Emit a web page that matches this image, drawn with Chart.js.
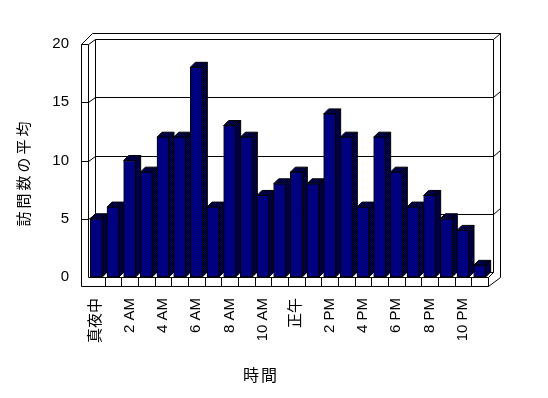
<!DOCTYPE html>
<html>
<head>
<meta charset="utf-8">
<script src="https://cdn.jsdelivr.net/npm/chart.js@4/dist/chart.umd.min.js"></script>
<style>
  body { margin: 0; background: #fff; }
  canvas { display: block; }
</style>
</head>
<body>
<canvas id="chart" width="548" height="398"></canvas>
<script>
// hour categories (only every other one gets a label)
const hours = ['真夜中', '1 AM', '2 AM', '3 AM', '4 AM', '5 AM', '6 AM', '7 AM', '8 AM', '9 AM', '10 AM', '11 AM',
  '正午', '1 PM', '2 PM', '3 PM', '4 PM', '5 PM', '6 PM', '7 PM', '8 PM', '9 PM', '10 PM', '11 PM'];
const visits = [5, 6, 10, 9, 12, 12, 18, 6, 13, 12, 7, 8, 9, 8, 14, 12, 6, 12, 9, 6, 7, 5, 4, 1];
const yTicks = [0, 5, 10, 15, 20];
const xTitle = '時間';
const yTitle = '訪問数の平均';

const FONT = "'Liberation Sans', 'Noto Sans CJK JP', sans-serif";
const NAVY = '#000080';

// checker pattern used for the shaded sides of bars
function makeShade(ctx) {
  const c = document.createElement('canvas');
  c.width = 2; c.height = 2;
  const g = c.getContext('2d');
  g.fillStyle = '#000';
  g.fillRect(0, 0, 2, 2);
  g.fillStyle = NAVY;
  g.fillRect(0, 0, 1, 1);
  g.fillRect(1, 1, 1, 1);
  return ctx.createPattern(c, 'repeat');
}

function poly(ctx, pts, fill) {
  ctx.beginPath();
  ctx.moveTo(pts[0][0], pts[0][1]);
  for (let i = 1; i < pts.length; i++) ctx.lineTo(pts[i][0], pts[i][1]);
  if (fill) {
    ctx.closePath();
    ctx.fillStyle = fill;
    ctx.fill();
  }
  ctx.stroke();
}

// fake excel-style 3d box + bar depth
const box3d = {
  id: 'box3d',
  beforeDatasetsDraw(chart) {
    const { ctx, chartArea: a, scales } = chart;
    const y = scales.y, x = scales.x;
    const L = Math.round(a.left) + 0.5, R = Math.round(a.right) + 0.5;
    const T = Math.round(a.top) + 0.5, B = Math.round(a.bottom) + 0.5;
    const W = 7, FD = 9;
    ctx.save();
    ctx.strokeStyle = '#000';
    ctx.lineWidth = 1;

    // back wall gridlines
    yTicks.forEach(v => {
      if (v === 0) return;
      const py = Math.round(y.getPixelForValue(v)) + 0.5;
      poly(ctx, [[L - W, py], [L, py], [L + 7, py - 5], [R + 5, py - 5], [R + 12, py - 11]]);
    });
    // outer box
    poly(ctx, [[L - W, T], [L + 4, T - 11], [R + 12, T - 11], [R + 12, B], [R, B + FD]]);
    poly(ctx, [[L - W, T], [L - W, B + FD], [R, B + FD]]);
    poly(ctx, [[L, T], [L, B]]);
    // back wall inner edges + floor back
    poly(ctx, [[L + 7, T - 5], [L + 7, B - 5], [R + 5, B - 5], [R + 5, T - 5]]);
    poly(ctx, [[R + 5, B - 5], [R, B]]);
    // floor front
    poly(ctx, [[L, B], [R, B], [R, B + FD]]);
    const n = hours.length;
    for (let i = 1; i < n; i++) {
      const px = Math.round((x.getPixelForValue(i - 1) + x.getPixelForValue(i)) / 2) + 0.5;
      poly(ctx, [[px, B], [px, B + FD]]);
    }

    // bar tops and sides
    const shade = makeShade(ctx);
    chart.getDatasetMeta(0).data.forEach(bar => {
      const x1 = bar.x - bar.width / 2, x2 = bar.x + bar.width / 2;
      const top = bar.y, base = bar.base;
      poly(ctx, [[x2, top], [x2 + 5, top - 5], [x2 + 5, base - 5], [x2, base]], shade);
      poly(ctx, [[x1, top], [x1 + 5, top - 5], [x2 + 5, top - 5], [x2, top]], shade);
    });
    ctx.restore();
  },
  afterDraw(chart) {
    const ctx = chart.ctx;
    ctx.save();
    ctx.fillStyle = '#000';
    ctx.textAlign = 'center';
    ctx.textBaseline = 'middle';
    ctx.font = "16px 'Noto Sans CJK JP', sans-serif";
    ctx.letterSpacing = '2px';
    ctx.fillText(xTitle, 261, 375);
    ctx.translate(23, 174);
    ctx.rotate(-Math.PI / 2);
    ctx.font = "15px 'Noto Sans CJK JP', sans-serif";
    ctx.letterSpacing = '3px';
    ctx.fillText(yTitle, 1.5, 0);
    ctx.restore();
  }
};

new Chart(document.getElementById('chart'), {
  type: 'bar',
  data: {
    labels: hours,
    datasets: [{
      data: visits,
      backgroundColor: NAVY,
      borderColor: '#000',
      borderWidth: 1,
      borderSkipped: false,
      barThickness: 12
    }]
  },
  options: {
    responsive: false,
    animation: false,
    events: [],
    layout: { padding: { left: 0, top: 44, right: 60, bottom: 0 } },
    plugins: { legend: { display: false }, tooltip: { enabled: false } },
    scales: {
      x: {
        grid: { display: false, drawTicks: false },
        border: { display: false },
        ticks: {
          autoSkip: false,
          minRotation: 90,
          maxRotation: 90,
          padding: 21,
          color: '#000',
          font: { family: FONT, size: 15 },
          callback: (v, i) => (i % 2 === 0 ? hours[i] : '')
        },
        afterFit: s => { s.height = 398 - 277; }
      },
      y: {
        min: 0,
        max: 20,
        grid: { display: false, drawTicks: false },
        border: { display: false },
        ticks: {
          stepSize: 5,
          padding: 19,
          color: '#000',
          font: { family: FONT, size: 15 }
        },
        afterFit: s => { s.width = 88; }
      }
    }
  },
  plugins: [box3d]
});
</script>
</body>
</html>
